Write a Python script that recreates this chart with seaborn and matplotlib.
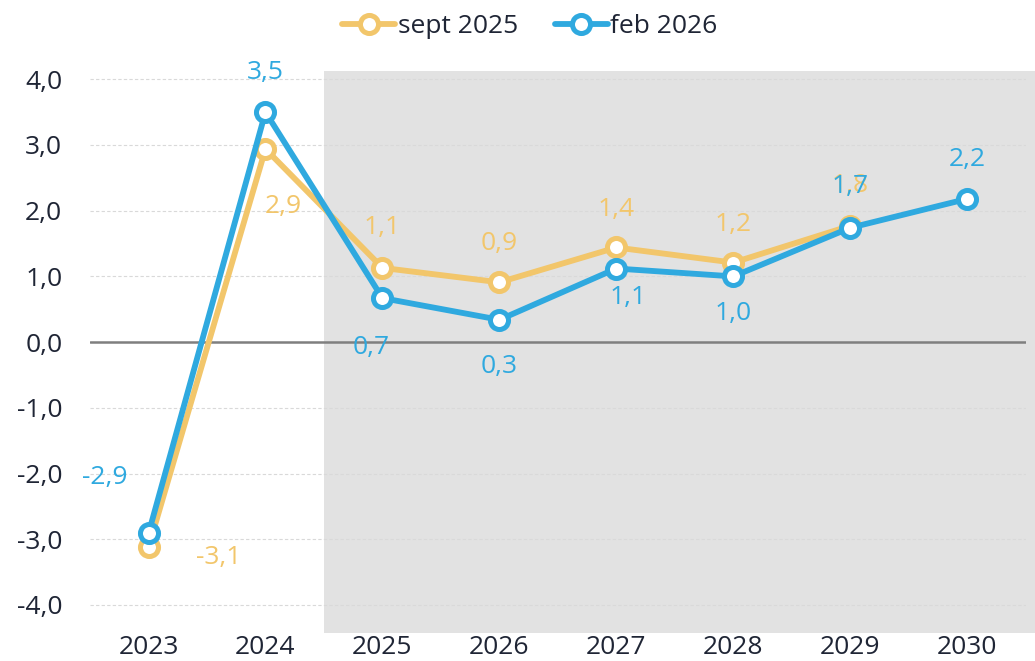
import numpy as np
import pandas as pd
import matplotlib
matplotlib.use("Agg")
import matplotlib.pyplot as plt
import seaborn as sns

# Data
years = ["2023", "2024", "2025", "2026", "2027", "2028", "2029", "2030"]
sept_2025 = [-3.12, 2.94, 1.13, 0.91, 1.44, 1.21, 1.77, np.nan]
feb_2026 = [-2.91, 3.50, 0.67, 0.34, 1.12, 1.00, 1.74, 2.18]
series_names = ["sept 2025", "feb 2026"]

orange = "#F2C66B"
blue = "#2FA9DF"
dark = "#1F2535"

sns.set_theme(style="white")
plt.rcParams["font.family"] = ["Open Sans", "DejaVu Sans"]

fig = plt.figure(figsize=(10.35, 6.61), dpi=100)
ax = fig.add_axes([0.087, 0.042, 0.904, 0.851])

pos = np.arange(len(years))

# shaded forecast period
ax.axvspan(1.5, 8.0, color="#E2E2E2", zorder=0, lw=0, clip_on=False)

for y in range(-4, 5):
    if y != 0:
        ax.axhline(y, color="#D9D9D9", lw=0.8, ls=(0, (3, 2)), zorder=1)
ax.axhline(0, color="#7F7F7F", lw=1.8, zorder=2)

for name, vals, c in zip(series_names, [sept_2025, feb_2026], [orange, blue]):
    d = pd.DataFrame({"pos": pos, "value": vals}).dropna()
    sns.lineplot(data=d, x="pos", y="value", color=c, label=name,
                 marker="o", markersize=13, markerfacecolor="white",
                 markeredgecolor=c, markeredgewidth=3.6,
                 linewidth=4.2, ax=ax, zorder=3)

def fmt(v):
    return f"{v:.1f}".replace(".", ",")

# label offsets in pixels (dx, dy)
off_sept = [(70, -10), (18, -58), (0, 40), (0, 39), (0, 38), (0, 38), (0, 40)]
off_feb = [(-44, 56), (0, 40), (-11, -49), (0, -47), (12, -29), (0, -37), (0, 41), (0, 39)]
for i, v in enumerate(sept_2025):
    if np.isnan(v):
        continue
    ax.annotate(fmt(v), (i, v), xytext=off_sept[i], textcoords="offset pixels",
                ha="center", va="center", color=orange, fontsize=19, zorder=4)
for i, v in enumerate(feb_2026):
    ax.annotate(fmt(v), (i, v), xytext=off_feb[i], textcoords="offset pixels",
                ha="center", va="center", color=blue, fontsize=19, zorder=4)

ax.set_xlim(-0.5, 7.5)
ax.set_ylim(-4.43, 4.13)
ax.set_yticks(range(-4, 5))
ax.set_yticklabels([fmt(float(v)) for v in range(-4, 5)])
ax.set_xticks(pos)
ax.set_xticklabels(years)
ax.tick_params(axis="y", length=0, pad=20, labelsize=19, labelcolor=dark)
ax.tick_params(axis="x", length=0, pad=1, labelsize=19, labelcolor=dark)
ax.set_xlabel("")
ax.set_ylabel("")
for s in ax.spines.values():
    s.set_visible(False)

handles, labels = ax.get_legend_handles_labels()
ax.get_legend().remove()
fig.legend(handles, labels, loc="upper center", bbox_to_anchor=(0.512, 1.015), ncol=2,
           frameon=False, fontsize=19, handlelength=2.0, handletextpad=0.1,
           columnspacing=1.4, labelcolor=dark)

fig.savefig("out.png", dpi=100)
